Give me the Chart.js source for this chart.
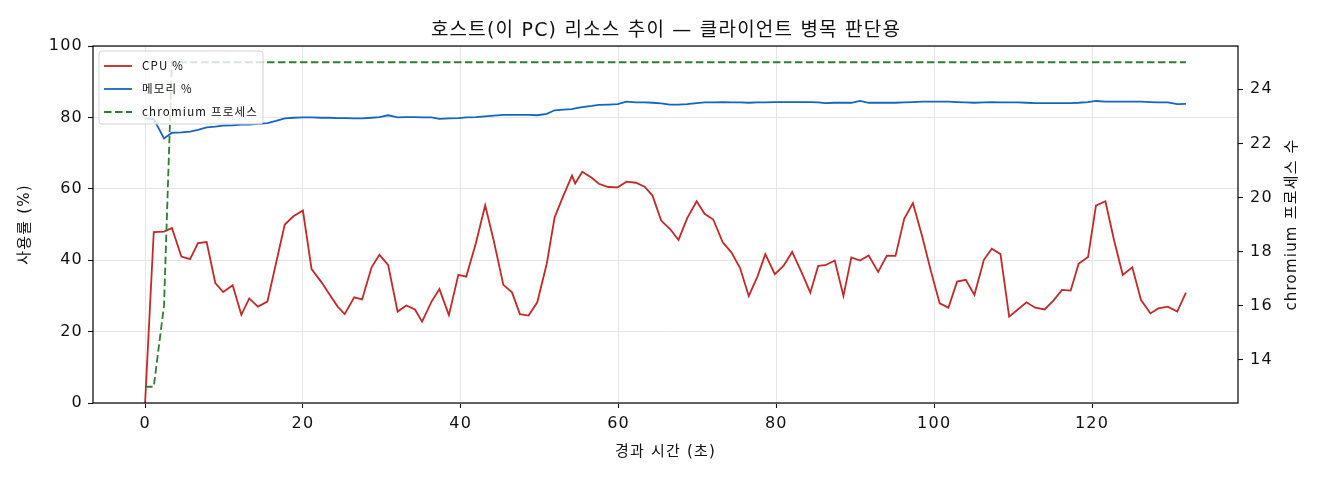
<!DOCTYPE html>
<html>
<head>
<meta charset="UTF-8">
<title>host resource trend</title>
<script src="https://cdn.jsdelivr.net/npm/chart.js@4.4.0/dist/chart.umd.min.js"></script>
<style>
	html, body {margin:0; padding:0; background:#fff;}
	#wrap {width:1320px; height:480px; position:relative;}
</style>
</head>
<body>
<div id="wrap"><canvas id="resChart"></canvas></div>
<script>
	// 텍스트
	const titleText = '호스트(이 PC) 리소스 추이 — 클라이언트 병목 판단용';
	const xTitle = '경과 시간 (초)';
	const yLeftTitle = '사용률 (%)';
	const yRightTitle = 'chromium 프로세스 수';
	const seriesNames = ['CPU %', '메모리 %', 'chromium 프로세스'];

	// 경과 시간 (초)
	const elapsed = [0,1.1,2.4,3.4,4.6,5.7,6.7,7.8,8.9,9.9,
		11.1,12.2,13.2,14.3,15.5,16.6,17.7,18.8,20.0,21.1,
		22.3,23.4,24.4,25.3,26.5,27.5,28.7,29.7,30.8,32.0,
		33.1,34.2,35.1,36.3,37.3,38.5,39.7,40.7,41.9,43.1,
		44.2,45.4,46.5,47.5,48.6,49.7,50.9,51.9,53.0,54.1,
		54.5,55.4,56.6,57.5,58.7,59.9,61.0,62.2,63.3,64.3,
		65.4,66.5,67.6,68.7,69.9,70.9,72.0,73.2,74.3,75.4,
		76.5,77.6,78.6,79.8,80.9,82.0,83.2,84.3,85.3,86.2,
		87.4,88.5,89.5,90.6,91.7,92.9,94.0,95.1,96.2,97.3,
		98.5,99.6,100.7,101.8,102.9,104.0,105.1,106.3,107.3,108.4,
		109.5,110.6,111.7,112.8,114.0,115.1,116.2,117.3,118.3,119.5,
		120.5,121.7,122.8,123.9,125.1,126.2,127.4,128.4,129.6,130.8,
		131.9];

	const cpuPct = [0,47.9,48.0,49.0,41.0,40.3,44.8,45.1,33.6,31.1,
		33.0,24.7,29.3,27.0,28.4,39.2,50.0,52.3,53.9,37.5,
		34.0,30.3,27.0,24.9,29.6,29.0,38.0,41.5,38.7,25.6,
		27.3,26.2,22.8,28.4,31.9,24.6,35.9,35.4,44.6,55.4,
		45.3,33.1,31.0,24.9,24.5,28.2,39.0,52.0,58.0,63.7,
		61.5,64.8,63.1,61.4,60.5,60.4,62.0,61.7,60.6,58.1,
		51.1,48.8,45.7,51.8,56.5,53.0,51.4,45.0,42.2,37.8,
		30.0,35.4,41.7,36.1,38.4,42.3,36.6,30.9,38.4,38.6,
		39.9,30.0,40.8,39.9,41.3,36.7,41.3,41.2,51.6,56.0,
		46.5,36.8,27.9,26.7,34.0,34.5,30.3,40.1,43.2,41.7,
		24.2,26.2,28.2,26.7,26.2,28.7,31.7,31.5,39.0,40.9,
		55.3,56.5,45.5,35.9,38.0,28.9,25.1,26.5,27.0,25.6,
		30.9];

	const memPct = [79.7,79.5,74.1,75.7,75.8,76.0,76.5,77.2,77.4,77.7,
		77.8,78.0,78.0,78.2,78.4,79.0,79.7,79.9,80.0,80.0,
		79.9,79.9,79.8,79.8,79.7,79.7,79.9,80.1,80.6,80.0,
		80.1,80.1,80.0,80.0,79.6,79.7,79.8,80.0,80.1,80.3,
		80.5,80.7,80.7,80.7,80.7,80.6,81.0,82.0,82.2,82.3,
		82.5,82.9,83.2,83.5,83.6,83.7,84.4,84.2,84.2,84.1,
		83.9,83.6,83.6,83.7,84.0,84.2,84.2,84.3,84.2,84.2,
		84.1,84.2,84.2,84.3,84.3,84.3,84.3,84.3,84.2,84.0,
		84.1,84.1,84.1,84.6,84.1,84.1,84.1,84.1,84.2,84.3,
		84.4,84.4,84.4,84.4,84.3,84.2,84.1,84.2,84.3,84.2,
		84.2,84.2,84.1,84.0,84.0,84.0,84.0,84.0,84.1,84.3,
		84.6,84.4,84.4,84.4,84.4,84.4,84.3,84.2,84.2,83.7,
		83.8];

	const chromiumProcs = [13,13,16,25,25,25,25,25,25,25,
		25,25,25,25,25,25,25,25,25,25,
		25,25,25,25,25,25,25,25,25,25,
		25,25,25,25,25,25,25,25,25,25,
		25,25,25,25,25,25,25,25,25,25,
		25,25,25,25,25,25,25,25,25,25,
		25,25,25,25,25,25,25,25,25,25,
		25,25,25,25,25,25,25,25,25,25,
		25,25,25,25,25,25,25,25,25,25,
		25,25,25,25,25,25,25,25,25,25,
		25,25,25,25,25,25,25,25,25,25,
		25,25,25,25,25,25,25,25,25,25,
		25];

	// 눈금
	const xTicks = [0,20,40,60,80,100,120];
	const leftTicks = [0,20,40,60,80,100];
	const rightTicks = [14,16,18,20,22,24];

	const krFont = "'Noto Sans CJK KR', sans-serif";
	const mixFont = "'DejaVu Sans', 'Noto Sans CJK KR', sans-serif";
	const ink = '#111';

	function pairs(ys) {
		return elapsed.map((t, i) => ({x: t, y: ys[i]}));
	}

	// 원본 폰트가 넓어서 자간을 조금 준다
	const spacing = {
		id: 'spacing',
		beforeLayout(chart) { chart.ctx.letterSpacing = '1.2px'; },
		beforeDraw(chart) { chart.ctx.letterSpacing = '1.2px'; }
	};

	// 차트 테두리 + 오른쪽 축 제목
	const frameAndRightTitle = {
		id: 'frameAndRightTitle',
		afterDraw(chart) {
			const ctx = chart.ctx, a = chart.chartArea;
			ctx.save();
			ctx.strokeStyle = '#000';
			ctx.lineWidth = 1.2;
			ctx.strokeRect(a.left, a.top, a.right - a.left, a.bottom - a.top);
			ctx.translate(chart.width - 28, (a.top + a.bottom) / 2);
			ctx.rotate(-Math.PI / 2);
			ctx.font = '15px ' + mixFont;
			ctx.fillStyle = ink;
			ctx.textAlign = 'center';
			ctx.textBaseline = 'middle';
			ctx.fillText(yRightTitle, 0, 0);
			ctx.restore();
		}
	};

	// 차트 안쪽 왼쪽 위 범례
	const boxLegend = {
		id: 'boxLegend',
		afterDatasetsDraw(chart) {
			const ctx = chart.ctx, a = chart.chartArea;
			const x0 = a.left + 6, y0 = a.top + 5;
			ctx.save();
			ctx.beginPath();
			ctx.roundRect(x0, y0, 164, 73, 3);
			ctx.fillStyle = 'rgba(255,255,255,0.8)';
			ctx.fill();
			ctx.strokeStyle = '#d4d4d4';
			ctx.lineWidth = 1;
			ctx.stroke();
			ctx.font = '11.5px ' + krFont;
			ctx.textBaseline = 'middle';
			chart.data.datasets.forEach((ds, i) => {
				const yy = y0 + 15 + i * 23;
				ctx.beginPath();
				ctx.setLineDash(ds.borderDash || []);
				ctx.strokeStyle = ds.borderColor;
				ctx.lineWidth = ds.borderWidth;
				ctx.moveTo(x0 + 5, yy);
				ctx.lineTo(x0 + 33, yy);
				ctx.stroke();
				ctx.setLineDash([]);
				ctx.fillStyle = ink;
				ctx.fillText(ds.label, x0 + 43, yy);
			});
			ctx.restore();
		}
	};

	const ctx = document.getElementById('resChart');
	new Chart(ctx, {
		type: 'line',
		data: {
			datasets: [{
				label: seriesNames[0],
				data: pairs(cpuPct),
				borderColor: '#c62828',
				borderWidth: 1.8,
				yAxisID: 'y',
				order: 3
			}, {
				label: seriesNames[1],
				data: pairs(memPct),
				borderColor: '#1565c0',
				borderWidth: 1.8,
				yAxisID: 'y',
				order: 2
			}, {
				label: seriesNames[2],
				data: pairs(chromiumProcs),
				borderColor: '#2e7d32',
				borderWidth: 1.8,
				borderDash: [7.5, 3.5],
				yAxisID: 'y2',
				order: 1
			}]
		},
		options: {
			responsive: true,
			maintainAspectRatio: false,
			animation: false,
			layout: {padding: {left: 12, right: 0, top: 0, bottom: 0}},
			elements: {point: {radius: 0}, line: {tension: 0, fill: false}},
			plugins: {
				legend: {display: false},
				tooltip: {enabled: false},
				title: {
					display: true,
					text: titleText,
					color: ink,
					font: {family: mixFont, size: 19, weight: 'normal', lineHeight: 1.2},
					padding: {top: 20, bottom: 3.2}
				}
			},
			scales: {
				x: {
					type: 'linear',
					min: -6.6,
					max: 138.5,
					afterBuildTicks: s => { s.ticks = xTicks.map(v => ({value: v})); },
					afterFit: s => { s.height = 77; },
					border: {display: false},
					grid: {color: '#e6e6e6', lineWidth: 1, tickColor: ink, tickLength: 5, tickWidth: 1.1},
					ticks: {color: ink, font: {family: mixFont, size: 16}, padding: 6, maxRotation: 0},
					title: {display: true, text: xTitle, color: ink,
						font: {family: mixFont, size: 15, lineHeight: 1.2}, padding: {top: 0, bottom: 19}}
				},
				y: {
					position: 'left',
					min: 0,
					max: 100,
					afterBuildTicks: s => { s.ticks = leftTicks.map(v => ({value: v})); },
					afterFit: s => { s.width = 81; },
					border: {display: false},
					grid: {color: '#e6e6e6', lineWidth: 1, tickColor: ink, tickLength: 5, tickWidth: 1.1},
					ticks: {color: ink, font: {family: mixFont, size: 16}, padding: 5},
					title: {display: true, text: yLeftTitle, color: ink,
						font: {family: mixFont, size: 15, lineHeight: 1.2}, padding: {top: 4, bottom: 0}}
				},
				y2: {
					position: 'right',
					min: 12.4,
					max: 25.6,
					afterBuildTicks: s => { s.ticks = rightTicks.map(v => ({value: v})); },
					afterFit: s => { s.width = 82; },
					border: {display: false},
					grid: {drawOnChartArea: false, tickColor: ink, tickLength: 5, tickWidth: 1.1},
					ticks: {color: ink, font: {family: mixFont, size: 16}, padding: 7}
				}
			}
		},
		plugins: [spacing, boxLegend, frameAndRightTitle]
	});
</script>
</body>
</html>
